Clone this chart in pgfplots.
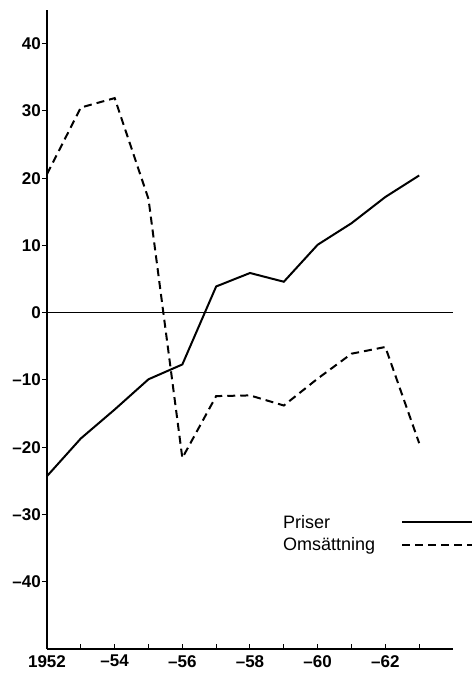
\documentclass[border=0pt]{standalone}
\usepackage{pgfplots}
\pgfplotsset{compat=1.18}
\usepackage{fontspec}
\setmainfont{Liberation Sans}
\begin{document}
\begin{tikzpicture}
\begin{axis}[
  name=ax,
  scale only axis,
  width=406pt, height=639pt,
  xmin=1952, xmax=1964,
  ymin=-50, ymax=45,
  axis x line=bottom, axis y line=left,
  axis line style={-, line width=1.2pt},
  tick align=outside,
  major tick length=5pt,
  tick style={black, line width=1pt},
  xtick style={yshift=5pt},
  xtick={1952,1953,...,1963},
  xticklabels={1952,,--54,,--56,,--58,,--60,,--62,},
  ytick={-40,-30,...,40},
  yticklabels={--40,--30,--20,--10,0,10,20,30,40},
  ticklabel style={font=\bfseries\fontsize{17}{17}\selectfont},
  y tick label style={inner sep=1pt},
  x tick label style={inner sep=1pt},
  clip=false,
  legend plot pos=right,
  legend cell align=left,
  legend style={at={(0.581,0.21)}, anchor=north west, draw=none, fill=none,
    inner sep=0pt, row sep=8pt, column sep=26pt, font=\fontsize{18}{18}\selectfont,
    nodes={inner sep=0pt}},
  legend image code/.code={\draw[#1] (0pt,0pt) -- (70pt,0pt);},
]
\addplot[black, line width=2pt] coordinates {
(1952,-24.3) (1953,-18.7) (1954,-14.4) (1955,-9.9) (1956,-7.7) (1957,3.9)
(1958,5.9) (1959,4.6) (1960,10.1) (1961,13.3) (1962,17.2) (1963,20.4)
};
\addlegendentry{Priser}
\addplot[black, line width=2pt, dash pattern=on 8pt off 5pt] coordinates {
(1952,20.6) (1953,30.5) (1954,31.9) (1955,16.9) (1956,-21.6) (1957,-12.4)
(1958,-12.3) (1959,-13.8) (1960,-9.8) (1961,-6.1) (1962,-5.1) (1963,-19.4)
};
\addlegendentry{Omsättning}
\addplot[black, line width=1.2pt, forget plot] coordinates {(1952,0) (1964,0)};
\end{axis}
\path ([shift={(-47pt,-25pt)}]ax.south west) rectangle ([shift={(425pt,649pt)}]ax.south west);
\end{tikzpicture}
\end{document}
